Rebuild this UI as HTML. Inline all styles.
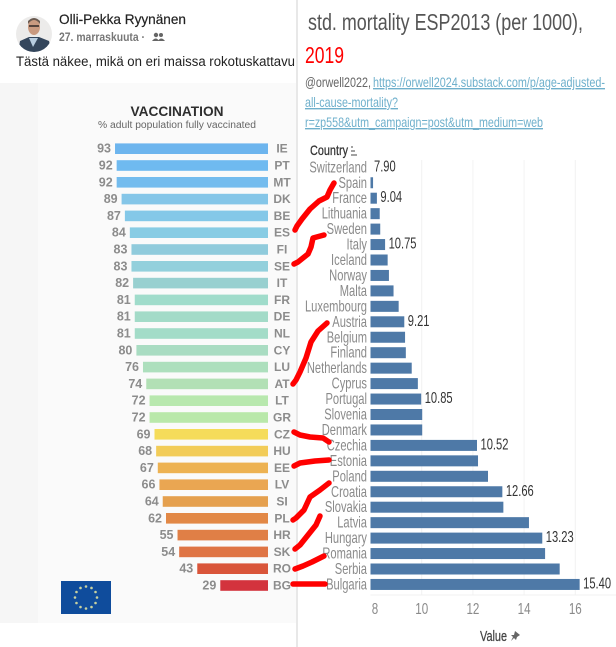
<!DOCTYPE html>
<html lang="fi">
<head>
<meta charset="utf-8">
<title>Vaccination and mortality comparison</title>
<style>
html,body{margin:0;padding:0;background:#fff;width:616px;height:647px;overflow:hidden}
svg{display:block;font-family:"Liberation Sans",sans-serif;filter:blur(0.35px)}
</style>
</head>
<body>
<svg id="root" width="616" height="647" viewBox="0 0 616 647" xmlns="http://www.w3.org/2000/svg">
  <rect x="0" y="0" width="616" height="647" fill="#ffffff"/>

  <g>
    <rect x="0" y="83" width="296" height="540" fill="#f6f6f6"/>
    <rect x="38" y="83" width="258" height="540" fill="#fafafa"/>
    <g>
      <clipPath id="avatarClip"><circle cx="34" cy="34" r="18"/></clipPath>
      <circle cx="34" cy="34" r="18" fill="#ecebea"/>
      <g clip-path="url(#avatarClip)">
        <path d="M18 53 L20 41 L29 37 L39 37 L49 41 L52 53 Z" fill="#34465c"/>
        <path d="M29 38 L33 47 L38 38 Z" fill="#b8cde0"/>
        <ellipse cx="34" cy="27" rx="6" ry="8" fill="#c99a80"/>
        <path d="M28 24 Q34 16 40 24 L40 21 Q34 15 28 21 Z" fill="#6a5a50"/>
        <rect x="29" y="25" width="10" height="2" fill="#55433c"/>
      </g>
    </g>
    <text x="59" y="24" font-size="14" fill="#222" stroke="#222" stroke-width="0.2" textLength="127" lengthAdjust="spacingAndGlyphs">Olli-Pekka Ryynänen</text>
    <text x="59" y="41" font-size="11.5" font-weight="bold" fill="#777" textLength="86" lengthAdjust="spacingAndGlyphs">27. marraskuuta ·</text>
    <g fill="#666">
      <circle cx="156" cy="35" r="2.2"/><circle cx="161" cy="35" r="2"/>
      <path d="M152 41 Q156 36 159 41 Z"/><path d="M158 41 Q161 36 165 41 Z"/>
    </g>
    <text x="16" y="66" font-size="13.5" fill="#222" textLength="279" lengthAdjust="spacingAndGlyphs">Tästä näkee, mikä on eri maissa rokotuskattavu</text>
    <text x="177" y="116" font-size="14" font-weight="bold" fill="#2e2e2e" text-anchor="middle" textLength="93" lengthAdjust="spacingAndGlyphs">VACCINATION</text>
    <text x="177" y="128" font-size="10" fill="#666" text-anchor="middle" textLength="158" lengthAdjust="spacingAndGlyphs">% adult population fully vaccinated</text>
    <g id="vaccBars"></g>
    <g id="euFlag">
      <rect x="61" y="581" width="50" height="33" fill="#0f4c9c"/>
    </g>
  </g>

  <rect x="296" y="0" width="2" height="647" fill="#e8e8e8"/>

  <g>
    <text x="308" y="30" font-size="23" fill="#555" textLength="275" lengthAdjust="spacingAndGlyphs">std. mortality ESP2013 (per 1000),</text>
    <text x="305" y="63" font-size="23" fill="#ff0000" textLength="39" lengthAdjust="spacingAndGlyphs">2019</text>
    <text x="305" y="87" font-size="14" fill="#666" textLength="66" lengthAdjust="spacingAndGlyphs">@orwell2022,</text>
    <text x="373" y="87" font-size="14" fill="#6fb0cc" text-decoration="underline" textLength="232" lengthAdjust="spacingAndGlyphs">https://orwell2024.substack.com/p/age-adjusted-</text>
    <text x="305" y="107" font-size="14" fill="#6fb0cc" text-decoration="underline" textLength="93" lengthAdjust="spacingAndGlyphs">all-cause-mortality?</text>
    <text x="305" y="127" font-size="14" fill="#6fb0cc" text-decoration="underline" textLength="238" lengthAdjust="spacingAndGlyphs">r=zp558&amp;utm_campaign=post&amp;utm_medium=web</text>
    <text x="310" y="155" font-size="14" fill="#333" stroke="#333" stroke-width="0.25" textLength="38" lengthAdjust="spacingAndGlyphs">Country</text>
    <g stroke="#444" stroke-width="1">
      <line x1="351" y1="147" x2="353" y2="147"/><line x1="351" y1="151" x2="355" y2="151"/><line x1="351" y1="155" x2="357" y2="155"/>
    </g>
    <g id="mortChart"></g>
    <text x="480" y="641" font-size="14.5" fill="#444" stroke="#444" stroke-width="0.25" textLength="27" lengthAdjust="spacingAndGlyphs">Value</text>
    <path d="M515 631 L520 635 L517 637 L516 640 L514 638 L511 641 L513 637 L511 635 L514 635 Z" fill="#666"/>
  </g>

  <g fill="none" stroke="#ff0000" stroke-width="5.5" stroke-linecap="round" stroke-linejoin="round">
    <polyline points="334,183 330,190 327,197 319,201 310,209 302,219 297,226 295,230"/>
    <polyline points="324,235 313,238 311,247 308,254 298,262 294,264"/>
    <polyline points="327,323 318,331 311,342 306,358 300,372 296,380 293,384"/>
    <polyline points="294,432 300,435 310,437 323,438 329,442"/>
    <polyline points="294,466 300,463 315,461 329,460"/>
    <polyline points="329,483 320,490 310,497 304,510 296,518 293,520"/>
    <polyline points="320,516 316,525 308,535 300,545 295,549"/>
    <polyline points="324,556 312,562 303,566 295,569"/>
    <polyline points="293,584 325,584"/>
  </g>
</svg>

<script>
// Vaccination chart data
const vaccCodes = ["IE","PT","MT","DK","BE","ES","FI","SE","IT","FR","DE","NL","CY","LU","AT","LT","GR","CZ","HU","EE","LV","SI","PL","HR","SK","RO","BG"];
const vaccValues = [93,92,92,89,87,84,83,83,82,81,81,81,80,76,74,72,72,69,68,67,66,64,62,55,54,43,29];
const vaccColors = ["#6db5ee","#6fbaf0","#74bcee","#85c6e8","#84c8e8","#88cce4","#90cbdc","#93d0dc","#98d0d0","#a0dccb","#a3dbc8","#a3dcc8","#a9dcc2","#addfbd","#b2e0b5","#b8e8ae","#b9e8aa","#f5dc5a","#f2cc58","#edb252","#eaa652","#e5a04e","#e28846","#e07f46","#df7444","#d9553a","#d3333d"];

// Mortality chart data
const countries = ["Switzerland","Spain","France","Lithuania","Sweden","Italy","Iceland","Norway","Malta","Luxembourg","Austria","Belgium","Finland","Netherlands","Cyprus","Portugal","Slovenia","Denmark","Czechia","Estonia","Poland","Croatia","Slovakia","Latvia","Hungary","Romania","Serbia","Bulgaria"];
const mortalityValues = [7.9,8.1,8.25,8.36,8.38,8.57,8.67,8.72,8.9,9.1,9.32,9.35,9.38,9.61,9.85,9.98,10.02,10.02,12.16,12.2,12.59,13.15,13.19,14.19,14.71,14.82,15.39,16.17];
const printedLabels = ["7.90","","9.04","","","10.75","","","","","9.21","","","","","10.85","","","10.52","","","12.66","","","13.23","","","15.40"];
const xTicks = [8,10,12,14,16];

const NS = "http://www.w3.org/2000/svg";
function make(tag, attrs, parent, txt) {
  const el = document.createElementNS(NS, tag);
  for (const k in attrs) el.setAttribute(k, attrs[k]);
  if (txt !== undefined) el.textContent = txt;
  parent.appendChild(el);
  return el;
}

// Vaccination axis functions
const vaccX = v => 268 - v * 1.645;
const vaccY = i => 148.7 + i * 16.8;
const vaccGroup = document.getElementById("vaccBars");
vaccCodes.forEach((code, i) => {
  const v = vaccValues[i];
  const bar = make("rect", {x: vaccX(v), y: vaccY(i) - 5.3, width: 268 - vaccX(v), height: 10.6, fill: vaccColors[i]}, vaccGroup);
  
  
  const val = make("text", {x: vaccX(v) - 4, y: vaccY(i) + 4, "font-size": 12.5, "font-weight": "bold", fill: "#8c8c8c", "text-anchor": "end"}, vaccGroup, String(v));
  
  
  const lab = make("text", {x: 282, y: vaccY(i) + 4, "font-size": 12, "font-weight": "bold", fill: "#8c8c8c", "text-anchor": "middle"}, vaccGroup, code);
  
  
});

// EU flag stars
const flag = document.getElementById("euFlag");
for (let s = 0; s < 12; s++) {
  const a = s * Math.PI / 6;
  const star = make("circle", {cx: 86 + 11 * Math.sin(a), cy: 597.5 - 11 * Math.cos(a), r: 1.3, fill: "#c9d2a0"}, flag);
  
  
}

// Mortality axis functions
const mortX = v => 370.5 + (v - 8) * 25.6;
const mortY = i => 167.3 + i * 15.45;
const mort = document.getElementById("mortChart");
xTicks.forEach(t => {
  if (t > 8) {
    const grid = make("line", {x1: mortX(t), x2: mortX(t), y1: 160, y2: 595, stroke: "#f2f2f2", "stroke-width": 1}, mort);
    
    
  }
  const tickX = t === 8 ? mortX(t) + 4.5 : mortX(t);
  const tick = make("text", {"font-size": 15.5, fill: "#8a8a8a", "text-anchor": "middle", transform: "translate(" + tickX + ",614) scale(.75,1)"}, mort, String(t));
  
  
});
const baseline = make("line", {x1: mortX(8), x2: 616, y1: 595, y2: 595, stroke: "#f0f0f0", "stroke-width": 1}, mort);



countries.forEach((name, i) => {
  const y = mortY(i), v = mortalityValues[i];
  const lab = make("text", {"font-size": 15.5, fill: "#8a8a8a", "text-anchor": "end", transform: "translate(367," + (y + 5) + ") scale(.72,1)"}, mort, name);
  
  
  const w = Math.max(0, mortX(v) - mortX(8));
  if (w > 0) {
    const bar = make("rect", {x: mortX(8), y: y - 5.5, width: w, height: 11, fill: "#4e79a7"}, mort);
    
    
  }
  if (printedLabels[i]) {
    const endX = mortX(Math.max(v, 8)) + 3.5;
    const val = make("text", {"font-size": 15.5, fill: "#333", transform: "translate(" + endX + "," + (y + 4) + ") scale(.72,1)"}, mort, printedLabels[i]);
    
    
  }
});
</script>
</body>
</html>
